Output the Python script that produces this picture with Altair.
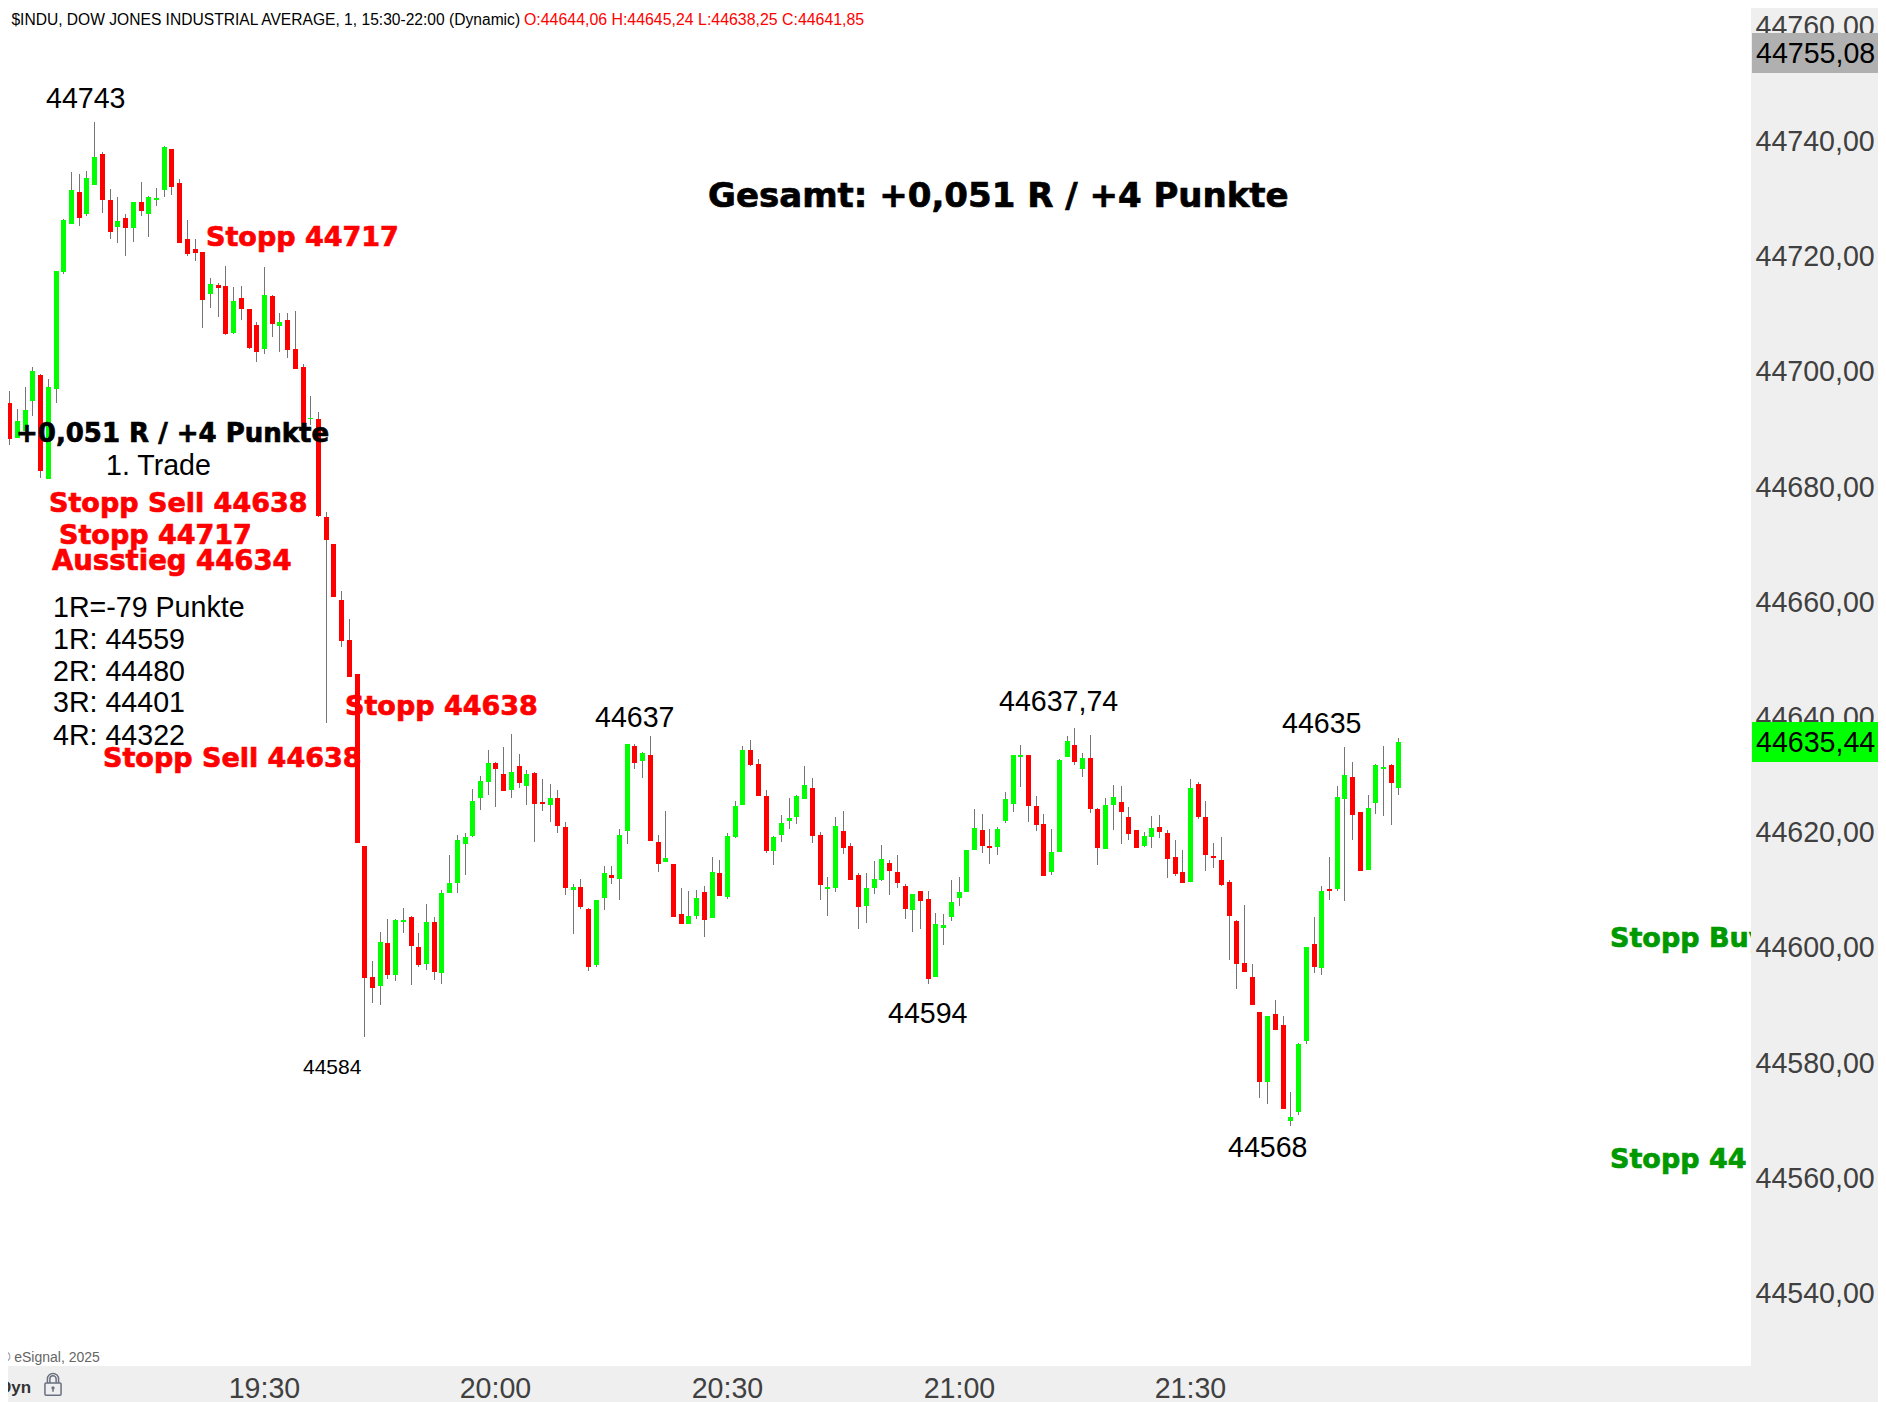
import altair as alt
import pandas as pd

FIRST_MINUTE = -34  # minutes relative to 19:30

opens = [
44683.6,44694.3,44688.3,44689.4,44694.7,44699.2,44681.2,44696.7,44717.0,44725.4,
44730.9,44727.1,44732.2,44737.6,44729.6,44724.9,44726.4,44724.7,44729.2,44727.1,
44729.6,44731.3,44738.4,44732.5,44722.8,44721.1,44720.5,44713.2,44714.8,44714.6,
44706.5,44712.6,44710.6,44707.9,
44703.7,44712.9,44707.7,44708.7,44703.7,44700.6,44691.5,44691.6,44674.6,44669.9,
44660.2,44653.2,44647.3,44617.4,44594.7,44593.1,44600.6,44595.0,44604.2,44605.1,
44599.9,44596.9,44604.2,44595.4,44609.3,44611.0,44617.8,44619.2,44625.8,44628.5,
44631.8,44629.9,44627.2,44631.3,44627.8,44630.1,44625.1,44624.5,44625.8,44620.7,
44609.8,44610.3,44606.5,44596.8,44608.4,44612.4,44611.7,44620.0,44634.8,44632.2,
44633.2,44618.1,44614.7,44614.3,44605.6,44603.9,44605.3,44609.5,44604.9,44612.8,
44608.6,44619.0,44624.6,44634.1,44631.7,44626.1,44616.6,44619.4,44621.8,44622.5,
44625.6,44627.5,44619.4,44610.0,44610.2,44620.1,44617.5,44612.4,44607.0,44610.2,
44611.5,44614.5,44612.9,44610.5,44606.3,44609.6,44608.2,44594.7,44603.2,44605.1,
44608.4,44609.5,44616.8,44620.2,44617.5,44617.3,44621.8,44624.7,44632.9,44633.2,
44624.4,44621.3,44612.9,44616.4,44632.9,44635.0,44630.8,44632.7,44623.9,44616.9,
44624.6,44625.1,44622.5,44620.2,44617.5,44619.0,44620.8,44619.7,44615.5,44612.9,
44611.2,44628.2,44622.5,44615.7,44615.0,44611.2,44604.4,44597.1,44594.7,44588.6,
44576.5,44588.3,44586.4,44569.7,44571.3,44583.6,44600.4,44596.3,44610.0,44610.0,
44625.6,44629.4,44623.4,44613.3,44624.9,44630.8,44631.5,44627.5]

closes = [
44694.2,44688.1,44691.2,44693.1,44699.9,44682.6,44697.1,44717.2,44726.2,44731.3,
44726.4,44733.4,44737.0,44729.6,44724.0,44725.9,44724.7,44729.2,44727.7,44730.1,
44729.9,44738.8,44731.8,44722.1,44720.2,44720.4,44712.2,44715.0,44714.3,44706.3,
44712.0,44710.6,44703.9,44703.2,
44713.1,44708.0,44708.4,44703.5,44700.2,44690.8,44691.8,44674.7,44670.6,44660.7,
44653.0,44646.8,44618.0,44594.5,44592.8,44600.8,44595.0,44604.6,44604.6,44600.1,
44596.8,44604.2,44595.6,44609.3,44611.0,44618.5,44619.0,44625.2,44628.7,44631.8,
44630.8,44627.0,44630.3,44628.4,44629.9,44624.7,44624.7,44625.8,44620.9,44610.1,
44610.3,44606.8,44596.4,44608.1,44612.7,44611.9,44619.3,44635.1,44631.8,44633.6,
44618.3,44614.3,44615.4,44605.1,44603.9,44605.3,44608.4,44604.6,44612.9,44608.8,
44619.2,44624.4,44634.1,44631.5,44626.1,44616.6,44619.0,44621.4,44622.3,44626.1,
44628.0,44619.2,44610.7,44610.3,44620.9,44617.1,44611.5,44606.9,44610.2,44611.7,
44615.2,44613.1,44611.0,44606.5,44609.1,44607.9,44594.4,44603.9,44603.7,44607.7,
44609.5,44616.8,44620.6,44617.5,44617.1,44620.4,44625.6,44633.2,44633.2,44624.4,
44621.1,44612.2,44616.4,44632.4,44635.7,44632.0,44632.7,44623.9,44617.1,44624.6,
44626.0,44623.4,44619.5,44617.1,44619.2,44620.6,44619.9,44615.2,44612.6,44611.0,
44627.5,44622.5,44615.9,44615.4,44610.7,44605.3,44597.0,44595.6,44589.8,44576.5,
44587.9,44585.5,44571.8,44570.4,44583.1,44599.9,44596.4,44609.6,44609.6,44626.0,
44629.8,44622.8,44613.1,44624.0,44631.5,44631.2,44628.4,44635.5]

highs = [
44695.4,44696.4,44693.3,44697.1,44700.6,44699.3,44698.5,44717.3,44726.3,44734.4,
44734.1,44734.6,44743.1,44737.9,44731.5,44730.1,44727.1,44729.3,44732.7,44730.2,
44731.7,44738.9,44738.5,44733.2,44726.1,44722.8,44720.6,44716.0,44715.2,44718.1,
44714.5,44714.6,44710.7,44708.4,
44717.9,44713.1,44709.9,44709.9,44710.3,44701.1,44695.5,44692.8,44675.4,44669.9,
44661.7,44656.9,44647.3,44617.4,44597.5,44602.5,44604.8,44604.7,44606.7,44605.2,
44602.3,44607.4,44605.1,44609.8,44615.9,44619.3,44619.7,44627.3,44629.6,44634.1,
44632.0,44634.6,44636.9,44633.4,44630.6,44630.2,44629.1,44628.2,44627.2,44621.6,
44610.8,44611.7,44606.6,44608.1,44614.0,44614.0,44620.4,44635.2,44635.1,44633.7,
44636.5,44619.4,44623.5,44614.3,44610.2,44609.6,44609.8,44610.5,44615.5,44615.0,
44619.7,44625.3,44634.8,44635.9,44632.6,44627.2,44619.1,44622.8,44625.8,44626.2,
44631.3,44629.3,44619.9,44612.1,44622.5,44623.5,44618.0,44612.8,44612.8,44614.8,
44617.6,44615.0,44615.9,44610.9,44609.1,44609.7,44609.6,44605.8,44605.6,44611.5,
44612.1,44616.8,44623.9,44623.0,44620.4,44620.8,44626.8,44633.3,44635.0,44633.3,
44626.1,44623.0,44620.4,44632.5,44636.5,44637.9,44633.6,44636.7,44624.0,44625.8,
44628.0,44627.9,44624.2,44620.2,44619.9,44622.7,44622.8,44620.2,44618.5,44616.8,
44629.1,44628.6,44625.3,44618.0,44619.0,44611.5,44604.5,44607.2,44597.0,44588.6,
44587.9,44590.7,44587.9,44574.7,44583.2,44599.9,44605.1,44610.5,44615.5,44627.9,
44634.6,44632.0,44623.4,44626.3,44631.6,44634.8,44631.7,44636.2]

lows = [
44683.6,44687.1,44688.3,44689.4,44692.1,44681.4,44681.2,44694.4,44716.8,44725.4,
44725.0,44726.8,44732.2,44727.3,44722.9,44722.1,44719.8,44722.3,44726.8,44723.1,
44728.5,44730.1,44730.4,44722.1,44719.8,44719.0,44707.3,44710.8,44709.3,44706.1,
44706.3,44708.8,44703.7,44701.4,
44702.9,44705.8,44703.2,44702.1,44700.2,44690.5,44690.5,44674.6,44638.7,44660.7,
44652.0,44646.8,44618.0,44584.2,44590.2,44589.8,44594.3,44594.0,44602.3,44593.3,
44596.4,44595.9,44594.2,44593.5,44609.3,44609.3,44612.4,44619.0,44623.7,44626.3,
44624.2,44627.0,44625.8,44627.5,44624.5,44618.1,44623.5,44621.6,44619.7,44608.9,
44602.2,44606.5,44595.7,44596.4,44606.3,44610.8,44608.1,44617.8,44630.8,44629.2,
44618.3,44612.9,44614.7,44605.1,44603.9,44603.9,44604.8,44601.7,44604.9,44608.8,
44608.3,44618.8,44624.6,44631.3,44626.1,44616.2,44614.2,44618.1,44620.4,44621.3,
44625.6,44618.0,44608.1,44605.3,44609.5,44616.1,44611.5,44603.0,44604.1,44609.1,
44611.4,44608.9,44610.2,44604.8,44602.5,44603.0,44593.5,44594.7,44600.3,44604.4,
44607.0,44609.5,44616.8,44616.2,44614.3,44615.9,44621.4,44623.4,44627.7,44621.6,
44620.1,44612.2,44612.4,44616.4,44632.9,44631.5,44629.4,44623.2,44614.2,44616.9,
44620.2,44617.8,44618.5,44617.1,44617.3,44617.1,44618.8,44611.9,44612.2,44611.0,
44611.2,44622.1,44613.1,44613.6,44610.5,44597.7,44592.6,44595.6,44589.8,44573.7,
44572.7,44585.5,44571.8,44568.8,44570.8,44583.1,44595.4,44595.1,44608.1,44609.6,
44607.9,44618.5,44613.1,44613.3,44623.0,44622.7,44621.1,44626.3]

price_ticks = [44540, 44560, 44580, 44600, 44620, 44640, 44660, 44680, 44700, 44720, 44740, 44760]
time_ticks = [0, 30, 60, 90, 120]
time_labels = ["19:30", "20:00", "20:30", "21:00", "21:30"]
tag_prices = [44755.08, 44635.44]
tag_labels = ["44755,08", "44635,44"]
tag_colors = ["#b0b0b0", "#00ff00"]

RED = "#ff0000"
GREEN = "#00ff00"
WICK = "#757575"
AXIS_TEXT = "#404040"
SANS = "Liberation Sans"
HEAVY = "DejaVu Sans"

PLOT_W = 1743
PLOT_H = 1358
SVG_W = 1870
M = 8  # page margin: the plot's origin sits at page (8, 8)
BIG = 28.6

df = pd.DataFrame({
    "minute": [FIRST_MINUTE + i for i in range(len(opens))],
    "open": opens, "high": highs, "low": lows, "close": closes,
})
df["dir"] = ["up" if c >= o else "down" for o, c in zip(opens, closes)]

x_scale = alt.Scale(domain=[-33.17, 192.69], nice=False, zero=False, round=True, padding=0)
y_scale = alt.Scale(domain=[44527.15, 44762.92], nice=False, zero=False, round=True, padding=0)

label_expr_x = "[" + ",".join(f"'{t}'" for t in time_labels) + "][datum.value/30]"

x_axis = alt.Axis(values=time_ticks, labelExpr=label_expr_x, title=None, grid=False, domain=False,
                  ticks=False, labelFont=SANS, labelFontSize=BIG, labelColor=AXIS_TEXT,
                  labelPadding=8, labelOverlap=False, labelFlush=False)
y_axis = alt.Axis(values=price_ticks, orient="right",
                  labelExpr="replace(format(datum.value,'.2f'),'.',',')",
                  title=None, grid=False, domain=False, ticks=False, labelFont=SANS, labelFontSize=BIG,
                  labelColor=AXIS_TEXT, labelPadding=4, labelOverlap=False, labelFlush=False,
                  labelAlign="left", labelBaseline="middle", labelOffset=1)

X = alt.X("minute:Q", scale=x_scale, axis=x_axis)
base = alt.Chart(df)

wicks = base.mark_rule(color=WICK, strokeWidth=1, xOffset=0.5).encode(
    x=X,
    y=alt.Y("high:Q", scale=y_scale, axis=y_axis),
    y2="low:Q",
)
bodies = base.mark_bar(width=5, xOffset=0.5).encode(
    x=X,
    y=alt.Y("open:Q", scale=y_scale, axis=y_axis),
    y2="close:Q",
    color=alt.Color("dir:N", scale=alt.Scale(domain=["up", "down"], range=[GREEN, RED]), legend=None),
)

tags_df = pd.DataFrame({"price": tag_prices, "label": tag_labels, "fill": tag_colors})
tag_rects = alt.Chart(tags_df).mark_rect(height=40).encode(
    x=alt.value(1752 - M), x2=alt.value(1878 - M),
    y=alt.Y("price:Q", scale=y_scale, axis=y_axis),
    color=alt.Color("fill:N", scale=None),
)
tag_text = alt.Chart(tags_df).mark_text(font=SANS, fontSize=BIG, color="black", align="left", baseline="middle", dy=1).encode(
    x=alt.value(1756 - M),
    y=alt.Y("price:Q", scale=y_scale, axis=y_axis),
    text="label:N",
)


def note(text, x, y, size=BIG, color="black", heavy=False, clip=False, bold=False):
    """One text note placed at page pixel (x, y): x = left edge, y = vertical centre."""
    extra = {"stroke": color, "strokeWidth": 0.7} if heavy else {}
    return alt.Chart(pd.DataFrame({"t": [text]})).mark_text(
        font=HEAVY if heavy else SANS,
        fontWeight="bold" if (heavy or bold) else "normal",
        fontSize=size, color=color, align="left", baseline="middle", clip=clip, **extra,
    ).encode(x=alt.value(x - M), y=alt.value(y - M + 1.5), text="t:N")


notes = [
    note("* $INDU, DOW JONES INDUSTRIAL AVERAGE, 1, 15:30-22:00 (Dynamic)", 1, 18, size=15.6),
    note("O:44644,06 H:44645,24 L:44638,25 C:44641,85", 524, 18, size=15.9, color="#ff0000"),
    note("44743", 46, 97),
    note("Gesamt: +0,051 R / +4 Punkte", 708, 195, size=34, heavy=True),
    note("Stopp 44717", 206, 236, size=27, color=RED, heavy=True),
    note("+0,051 R / +4 Punkte", 16, 432, size=26, heavy=True),
    note("1. Trade", 106, 464),
    note("Stopp Sell 44638", 49, 502, size=27, color=RED, heavy=True),
    note("Stopp 44717", 59, 534, size=27, color=RED, heavy=True),
    note("Ausstieg 44634", 52, 560, size=27.5, color=RED, heavy=True),
    note("1R=-79 Punkte", 53, 606),
    note("1R: 44559", 53, 638),
    note("2R: 44480", 53, 670),
    note("3R: 44401", 53, 701),
    note("4R: 44322", 53, 734),
    note("Stopp Sell 44638", 103, 757, size=27, color=RED, heavy=True),
    note("Stopp 44638", 345, 705, size=27, color=RED, heavy=True),
    note("44637", 595, 716),
    note("44637,74", 999, 700),
    note("44635", 1282, 722),
    note("44594", 888, 1012),
    note("44568", 1228, 1146),
    note("44584", 303, 1066, size=21),
    note("Stopp Buy 44717", 1610, 937, size=27, color="#009900", heavy=True, clip=True),
    note("Stopp 44", 1610, 1158, size=27, color="#009900", heavy=True, clip=True),
    note("© eSignal, 2025", 0, 1356, size=14, color="#666666"),
    note("Dyn", -1, 1386, size=17, color="#333333", bold=True),
]

LOCK = ("M-0.62,-0.1 H0.62 Q0.72,-0.1 0.72,0 V0.9 Q0.72,1 0.62,1 H-0.62 Q-0.72,1 -0.72,0.9 V0 Q-0.72,-0.1 -0.62,-0.1 Z "
        "M-0.5,-0.1 V-0.45 A0.5,0.5 0 0 1 0.5,-0.45 V-0.1 "
        "M-0.28,-0.1 V-0.45 A0.28,0.28 0 0 1 0.28,-0.45 V-0.1 "
        "M0,0.35 V0.7 M-0.08,0.35 A0.08,0.08 0 1 1 0.08,0.35 A0.08,0.08 0 1 1 -0.08,0.35")
lock = alt.Chart(pd.DataFrame({"k": [1]})).mark_point(
    shape=LOCK, filled=False, stroke="#6b7080", strokeWidth=1.5, size=500, opacity=1,
).encode(x=alt.value(53 - M), y=alt.value(1384 - M))

chart = alt.layer(wicks, bodies, tag_rects, tag_text, *notes, lock).properties(
    width=PLOT_W,
    height=PLOT_H,
    background="#efefef",
    padding={"left": 0, "top": 0, "right": SVG_W - PLOT_W, "bottom": 36},
    autosize=alt.AutoSizeParams(type="none"),
).configure_view(fill="white", stroke=None, strokeWidth=0)

chart.save("out.html", embed_options={"renderer": "svg", "actions": False})
